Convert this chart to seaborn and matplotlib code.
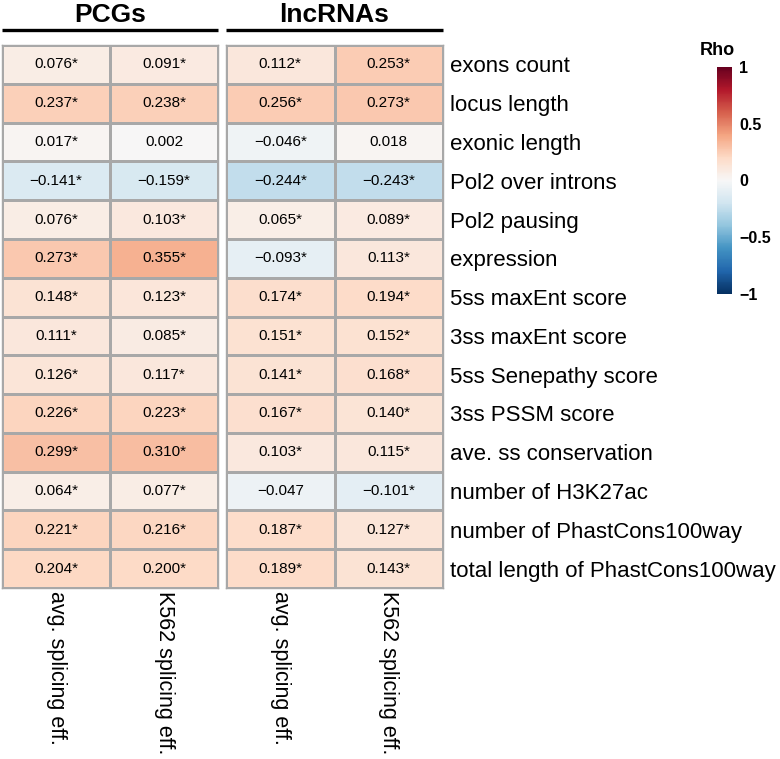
import matplotlib
matplotlib.use("Agg")
import matplotlib.pyplot as plt
import seaborn as sns
import pandas as pd

features = ["exons count", "locus length", "exonic length", "Pol2 over introns",
            "Pol2 pausing", "expression", "5ss maxEnt score", "3ss maxEnt score",
            "5ss Senepathy score", "3ss PSSM score", "ave. ss conservation",
            "number of H3K27ac", "number of PhastCons100way",
            "total length of PhastCons100way"]
columns = ["avg. splicing eff.", "K562 splicing eff."]

pcg_avg = [0.076, 0.237, 0.017, -0.141, 0.076, 0.273, 0.148, 0.111, 0.126, 0.226, 0.299, 0.064, 0.221, 0.204]
pcg_k562 = [0.091, 0.238, 0.002, -0.159, 0.103, 0.355, 0.123, 0.085, 0.117, 0.223, 0.310, 0.077, 0.216, 0.200]
lnc_avg = [0.112, 0.256, -0.046, -0.244, 0.065, -0.093, 0.174, 0.151, 0.141, 0.167, 0.103, -0.047, 0.187, 0.189]
lnc_k562 = [0.253, 0.273, 0.018, -0.243, 0.089, 0.113, 0.194, 0.152, 0.168, 0.140, 0.115, -0.101, 0.127, 0.143]

#significance flags (star in the cell)
pcg_avg_sig = [1] * 14
pcg_k562_sig = [1, 1, 0, 1, 1, 1, 1, 1, 1, 1, 1, 1, 1, 1]
lnc_avg_sig = [1, 1, 1, 1, 1, 1, 1, 1, 1, 1, 1, 0, 1, 1]
lnc_k562_sig = [1, 1, 0, 1, 1, 1, 1, 1, 1, 1, 1, 1, 1, 1]

plt.rcParams["font.family"] = ["Liberation Sans", "DejaVu Sans"]


def labels(vals, sigs):
    return [f"{v:.3f}".replace("-", "\u2212") + ("*" if s else "") for v, s in zip(vals, sigs)]


fig = plt.figure(figsize=(7.8, 7.59), dpi=100)
top, bot = 1 - 45 / 759, 1 - 588 / 759
ax1 = fig.add_axes([2 / 780, bot, 216 / 780, top - bot])
ax2 = fig.add_axes([226 / 780, bot, 217 / 780, top - bot])
cax = fig.add_axes([717 / 780, 1 - 294 / 759, 15 / 780, 227 / 759])

panels = [
    (ax1, "PCGs", pcg_avg, pcg_k562, pcg_avg_sig, pcg_k562_sig),
    (ax2, "lncRNAs", lnc_avg, lnc_k562, lnc_avg_sig, lnc_k562_sig),
]

for i, (ax, title, a, k, sa, sk) in enumerate(panels):
    df = pd.DataFrame({columns[0]: a, columns[1]: k}, index=features)
    annot = pd.DataFrame({columns[0]: labels(a, sa), columns[1]: labels(k, sk)}, index=features)
    sns.heatmap(df, ax=ax, cmap="RdBu_r", vmin=-1, vmax=1, annot=annot, fmt="",
                annot_kws={"size": 11, "color": "black"},
                linewidths=1, linecolor="#a8a8a8",
                cbar=(i == 1), cbar_ax=cax if i == 1 else None)
    for sp in ax.spines.values():
        sp.set_visible(True)
        sp.set_color("#a8a8a8")
        sp.set_linewidth(1)
    ax.set_xticklabels(columns, rotation=270, fontsize=15.5, ha="center", va="top")
    ax.tick_params(axis="x", length=0, pad=2)
    ax.set_ylabel("")
    if i == 0:
        ax.set_yticks([])
    else:
        ax.yaxis.tick_right()
        ax.set_yticklabels(features, rotation=0, fontsize=16)
        ax.tick_params(axis="y", length=0, pad=5)
    #title and bar above each block
    ax.plot([0, 1], [1 + 15 / 543, 1 + 15 / 543], transform=ax.transAxes,
            color="black", lw=2.4, clip_on=False, solid_capstyle="butt")
    ax.text(0.5, 1 + 30 / 543, title, transform=ax.transAxes, ha="center",
            va="center", fontsize=19, fontweight="bold")

cb = ax2.collections[0].colorbar
cb.set_ticks([-1, -0.5, 0, 0.5, 1])
cb.set_ticklabels(["\u22121", "\u22120.5", "0", "0.5", "1"])
cb.outline.set_visible(False)
cax.tick_params(length=0, labelsize=11.5, pad=5)
for t in cax.get_yticklabels():
    t.set_fontweight("bold")
cax.text(0.0, 1.035, "Rho", transform=cax.transAxes, ha="center", va="bottom",
         fontsize=13, fontweight="bold")

fig.savefig("out.png", dpi=100)
